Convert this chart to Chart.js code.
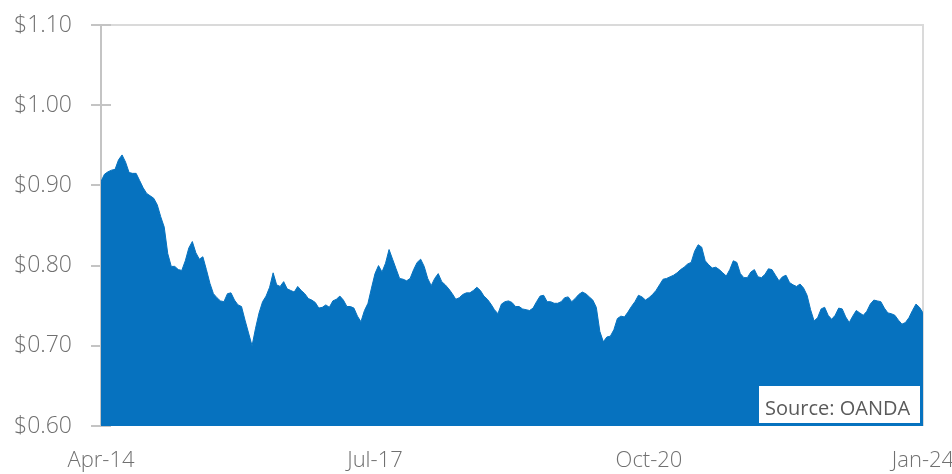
<!DOCTYPE html>
<html>
<head>
<meta charset="utf-8">
<script src="https://cdn.jsdelivr.net/npm/chart.js@4.4.0/dist/chart.umd.min.js"></script>
<style>
html, body { margin: 0; padding: 0; background: #fff; }
</style>
</head>
<body>
<canvas id="chart" width="952" height="474"></canvas>
<script>
// semi-monthly readings, Apr-14 .. Jan-24 (US$ per unit)
var rates = [
    0.905, 0.914, 0.917, 0.919, 0.920, 0.932, 0.938, 0.929, 0.916, 0.915,
    0.915, 0.906, 0.897, 0.890, 0.887, 0.884, 0.876, 0.861, 0.848, 0.815,
    0.799, 0.799, 0.795, 0.794, 0.806, 0.822, 0.830, 0.816, 0.808, 0.811,
    0.795, 0.778, 0.765, 0.760, 0.756, 0.755, 0.765, 0.766, 0.757, 0.751,
    0.749, 0.732, 0.716, 0.700, 0.722, 0.741, 0.755, 0.762, 0.773, 0.791,
    0.776, 0.774, 0.780, 0.771, 0.769, 0.767, 0.774, 0.769, 0.765, 0.759,
    0.757, 0.754, 0.747, 0.748, 0.751, 0.748, 0.756, 0.758, 0.762, 0.757,
    0.749, 0.749, 0.747, 0.737, 0.730, 0.744, 0.753, 0.772, 0.790, 0.800,
    0.792, 0.803, 0.820, 0.808, 0.796, 0.784, 0.783, 0.781, 0.784, 0.795,
    0.804, 0.808, 0.799, 0.784, 0.775, 0.784, 0.790, 0.780, 0.776, 0.771,
    0.765, 0.758, 0.760, 0.764, 0.766, 0.766, 0.769, 0.773, 0.769, 0.762,
    0.758, 0.752, 0.745, 0.740, 0.752, 0.755, 0.756, 0.754, 0.749, 0.749,
    0.746, 0.745, 0.744, 0.747, 0.755, 0.762, 0.763, 0.755, 0.755, 0.753,
    0.753, 0.755, 0.760, 0.761, 0.755, 0.759, 0.764, 0.767, 0.765, 0.761,
    0.757, 0.748, 0.718, 0.705, 0.711, 0.712, 0.720, 0.734, 0.737, 0.736,
    0.742, 0.749, 0.755, 0.763, 0.761, 0.757, 0.760, 0.764, 0.769, 0.776,
    0.783, 0.784, 0.786, 0.788, 0.791, 0.795, 0.798, 0.802, 0.804, 0.818,
    0.826, 0.823, 0.806, 0.801, 0.797, 0.798, 0.795, 0.791, 0.787, 0.795,
    0.806, 0.804, 0.790, 0.785, 0.785, 0.792, 0.795, 0.786, 0.785, 0.789,
    0.796, 0.795, 0.788, 0.781, 0.786, 0.788, 0.779, 0.776, 0.774,
    0.777, 0.772, 0.763, 0.745, 0.731, 0.735, 0.746, 0.748, 0.738, 0.733,
    0.738, 0.747, 0.746, 0.736, 0.729, 0.737, 0.744, 0.741, 0.738, 0.743,
    0.752, 0.757, 0.756, 0.755, 0.747, 0.741, 0.740, 0.738, 0.732, 0.727,
    0.729, 0.735, 0.744, 0.752, 0.748, 0.741
];

// months after Apr-14 where the x labels sit
var tickMonths = [0, 39, 78, 117];
var tickLabels = ['Apr-14', 'Jul-17', 'Oct-20', 'Jan-24'];

var yMin = 0.60;
var yMax = 1.10;
var sourceText = 'Source: OANDA';

var FONT = "'Open Sans', 'Liberation Sans', sans-serif";
var GREY_TEXT = '#707070';

var points = rates.map(function(v, i) {
    return {x: i / 2, y: v};
});

var framePlugin = {
    id: 'frame',
    beforeDatasetsDraw: function(chart) {
        var ctx = chart.ctx;
        var a = chart.chartArea;
        var y = chart.scales.y;

        ctx.save();
        ctx.lineWidth = 2;
        ctx.strokeStyle = '#dadada';
        ctx.beginPath();
        ctx.moveTo(a.left, a.top);
        ctx.lineTo(a.right, a.top);
        ctx.lineTo(a.right, a.bottom);
        ctx.stroke();

        // tick marks cross the axis a little
        ctx.strokeStyle = '#c4c4c4';
        y.ticks.forEach(function(t) {
            var py = Math.round(y.getPixelForValue(t.value));
            ctx.beginPath();
            ctx.moveTo(a.left - 10, py);
            ctx.lineTo(a.left + 10, py);
            ctx.stroke();
        });

        ctx.beginPath();
        ctx.moveTo(a.left, a.top);
        ctx.lineTo(a.left, a.bottom);
        ctx.stroke();
        ctx.restore();
    },
    afterDatasetsDraw: function(chart) {
        var ctx = chart.ctx;
        var a = chart.chartArea;

        ctx.save();
        ctx.fillStyle = '#ffffff';
        ctx.fillRect(a.right - 164, a.bottom - 40, 161, 37);
        ctx.fillStyle = '#5a5a5a';
        ctx.font = "20px " + FONT;
        ctx.textBaseline = 'alphabetic';
        ctx.textAlign = 'left';
        ctx.fillText(sourceText, a.right - 158, a.bottom - 11);
        ctx.restore();
    }
};

var chart = new Chart(document.getElementById('chart'), {
    type: 'line',
    data: {
        datasets: [{
            data: points,
            parsing: false,
            fill: 'start',
            backgroundColor: '#0672bf',
            borderColor: '#0672bf',
            borderWidth: 1,
            pointRadius: 0,
            tension: 0
        }]
    },
    options: {
        responsive: false,
        animation: false,
        devicePixelRatio: 1,
        layout: {
            padding: {top: 25, right: 29, left: 0, bottom: 0}
        },
        plugins: {
            legend: {display: false},
            tooltip: {enabled: false}
        },
        scales: {
            x: {
                type: 'linear',
                min: 0,
                max: 117,
                grid: {display: false},
                border: {display: false},
                afterBuildTicks: function(scale) {
                    scale.ticks = tickMonths.map(function(m) {
                        return {value: m};
                    });
                },
                afterFit: function(scale) {
                    scale.height = 48;
                    scale.paddingLeft = 0;
                    scale.paddingRight = 0;
                },
                ticks: {
                    autoSkip: false,
                    maxRotation: 0,
                    padding: 14,
                    color: GREY_TEXT,
                    font: {family: FONT, size: 22, weight: '300'},
                    callback: function(value) {
                        var i = tickMonths.indexOf(value);
                        return i < 0 ? '' : tickLabels[i];
                    }
                }
            },
            y: {
                min: yMin,
                max: yMax,
                grid: {display: false},
                border: {display: false},
                afterFit: function(scale) {
                    scale.width = 101;
                    scale.paddingTop = 0;
                    scale.paddingBottom = 0;
                },
                ticks: {
                    stepSize: 0.1,
                    padding: 21,
                    color: GREY_TEXT,
                    font: {family: FONT, size: 23, weight: '300'},
                    callback: function(value) {
                        return '$' + Number(value).toFixed(2);
                    }
                }
            }
        }
    },
    plugins: [framePlugin]
});
</script>
</body>
</html>
